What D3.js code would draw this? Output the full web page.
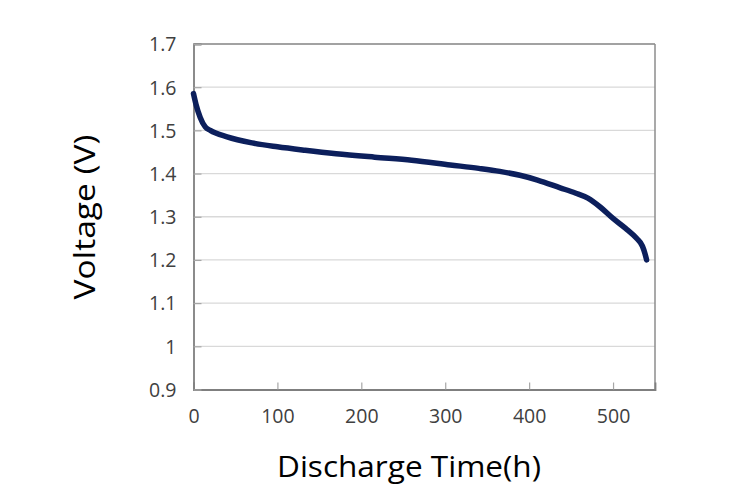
<!DOCTYPE html>
<html><head><meta charset="utf-8">
<script src="https://cdn.jsdelivr.net/npm/d3@7"></script>
<style>
html,body{margin:0;padding:0;background:#fff;}
svg{display:block;font-family:"Open Sans","Noto Sans",sans-serif;}
</style></head>
<body><svg id="c" width="750" height="493"></svg>
<script>
const timeH = [0, 3, 8, 14, 20, 40, 70, 100, 133, 170, 216, 260, 306, 340, 365, 389, 410, 437, 455, 470, 485, 500, 515, 528, 535, 538, 540];
const voltage = [1.585, 1.56, 1.53, 1.508, 1.500, 1.485, 1.471, 1.462, 1.454, 1.446, 1.438, 1.431, 1.420, 1.412, 1.405, 1.396, 1.385, 1.367, 1.355, 1.343, 1.322, 1.296, 1.273, 1.250, 1.232, 1.215, 1.20];
const xTicks = [0, 100, 200, 300, 400, 500];
const yTicks = [0.9, 1.0, 1.1, 1.2, 1.3, 1.4, 1.5, 1.6, 1.7];
const xTitle = "Discharge Time(h)";
const yTitle = "Voltage (V)";

const svg = d3.select("#c");
const L = 193.5, R = 655, T = 44, B = 389.5;
const x = d3.scaleLinear().domain([0, 550]).range([L, R]);
const y = d3.scaleLinear().domain([0.9, 1.7]).range([B, T]);

svg.append("g").selectAll("line").data(yTicks.slice(1)).join("line")
  .attr("x1", L).attr("x2", R).attr("y1", d => y(d)).attr("y2", d => y(d))
  .attr("stroke", "#d9d9d9").attr("stroke-width", 1.3);

svg.append("line").attr("x1", L).attr("x2", R).attr("y1", T).attr("y2", T).attr("stroke", "#8c8c8c").attr("stroke-width", 1.5);
svg.append("line").attr("x1", R).attr("x2", R).attr("y1", T).attr("y2", B).attr("stroke", "#8c8c8c").attr("stroke-width", 1.5);

const xAxis = svg.append("g").attr("transform", `translate(0,${B})`)
  .call(d3.axisBottom(x).tickValues(xTicks).tickSize(-7).tickPadding(20).tickFormat(d3.format("d")));
const yAxis = svg.append("g").attr("transform", `translate(${L},0)`)
  .call(d3.axisLeft(y).tickValues(yTicks).tickSize(-8).tickPadding(17).tickFormat(d => d === 1 ? "1" : d3.format(".1f")(d)));
[xAxis, yAxis].forEach(a => {
  a.select(".domain").attr("stroke", "#7f7f7f").attr("stroke-width", 1.8);
  a.selectAll(".tick line").attr("stroke", "#a6a6a6").attr("stroke-width", 1.2);
  a.selectAll(".tick text").attr("fill", "#404040").attr("font-size", 19.5).attr("font-family", "'Open Sans', sans-serif");
});
yAxis.selectAll(".tick text").attr("dy", "0.35em");
xAxis.selectAll(".tick text").attr("dy", "0.68em");

const line = d3.line().x((d, i) => x(timeH[i])).y(d => y(d)).curve(d3.curveMonotoneX);
svg.append("path").datum(voltage).attr("d", line)
  .attr("fill", "none").attr("stroke", "#0c1f5c").attr("stroke-width", 5.5)
  .attr("stroke-linecap", "round").attr("stroke-linejoin", "round");

svg.append("text").attr("x", 409).attr("y", 477).attr("text-anchor", "middle")
  .attr("font-size", 30).attr("fill", "#000")
  .attr("textLength", 264).attr("lengthAdjust", "spacingAndGlyphs").text(xTitle);
svg.append("text").attr("transform", "translate(95,217) rotate(-90)").attr("text-anchor", "middle")
  .attr("font-size", 30).attr("fill", "#000")
  .attr("textLength", 165).attr("lengthAdjust", "spacingAndGlyphs").text(yTitle);
</script></body></html>
